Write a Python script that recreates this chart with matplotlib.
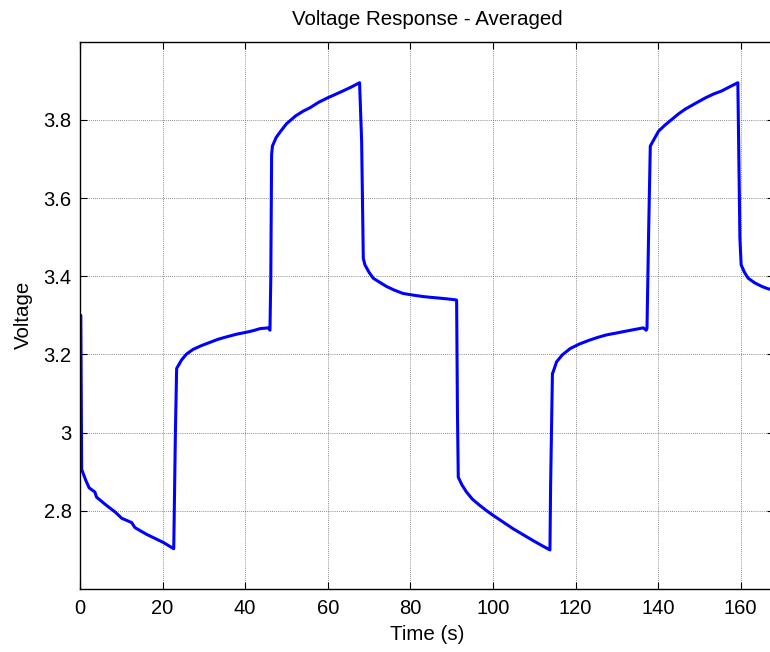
import matplotlib
matplotlib.use('Agg')
import matplotlib.pyplot as plt

# Averaged voltage trace (time in s, voltage in V)
time_s = [0.0, 0.2, 0.4, 1.4, 2.2, 3.6, 4.0, 6.4, 8.5, 10.1, 12.5, 13.3, 16.1, 20.2, 22.7,
          23.1, 23.4, 24.6, 25.8, 27.4, 29.5, 31.5, 33.5, 35.5, 38.0, 40.4, 42.0, 43.6, 45.6, 46.0,
          46.2, 46.4, 46.6, 47.5, 48.6, 50.0, 52.2, 54.0, 55.7, 57.8, 59.9, 61.8, 63.7, 65.7, 67.7,
          68.2, 68.6, 69.0, 70.0, 71.0, 72.5, 74.2, 76.0, 78.2, 80.5, 83.1, 85.0, 87.1, 89.0, 90.7, 91.2,
          91.4, 91.6, 92.5, 93.6, 95.0, 96.8, 98.5, 100.1, 102.5, 104.9, 107.3, 109.7, 111.7, 113.8,
          113.96, 114.4, 114.6, 115.4, 116.8, 118.7, 121.0, 123.5, 125.5, 127.5, 130.0, 132.4, 134.4,
          136.4, 137.1,
          137.3, 137.7, 138.1, 140.1, 141.7, 143.3, 144.9, 146.5, 149.0, 151.4, 153.4, 155.4, 157.4, 159.3,
          159.8, 160.1, 160.9, 161.8, 163.4, 165.1, 166.3, 168.0]
voltage = [3.30, 3.30, 2.906, 2.878, 2.859, 2.848, 2.835, 2.814, 2.797, 2.781, 2.770, 2.757, 2.740, 2.719, 2.703,
           3.00, 3.164, 3.186, 3.201, 3.213, 3.223, 3.231, 3.239, 3.245, 3.252, 3.257, 3.261, 3.266, 3.268, 3.262,
           3.395, 3.711, 3.733, 3.755, 3.771, 3.790, 3.810, 3.822, 3.831, 3.845, 3.856, 3.865, 3.874, 3.884, 3.895,
           3.745, 3.446, 3.429, 3.410, 3.395, 3.385, 3.374, 3.365, 3.356, 3.352, 3.348, 3.346, 3.344, 3.342, 3.340, 3.339,
           3.053, 2.886, 2.866, 2.848, 2.830, 2.814, 2.800, 2.788, 2.771, 2.754, 2.739, 2.724, 2.712, 2.700,
           2.865, 3.151, 3.156, 3.181, 3.199, 3.215, 3.227, 3.237, 3.244, 3.250, 3.255, 3.260, 3.264,
           3.268, 3.262,
           3.267, 3.515, 3.733, 3.771, 3.787, 3.801, 3.815, 3.827, 3.842, 3.856, 3.866, 3.874, 3.885, 3.895,
           3.497, 3.429, 3.410, 3.395, 3.383, 3.374, 3.369, 3.364]

x_ticks = [0, 20, 40, 60, 80, 100, 120, 140, 160]
y_ticks = [2.8, 3.0, 3.2, 3.4, 3.6, 3.8]
y_tick_labels = ['2.8', '3', '3.2', '3.4', '3.6', '3.8']

plt.rcParams['font.family'] = ['Liberation Sans', 'DejaVu Sans']

fig = plt.figure(figsize=(7.7, 6.52), dpi=100)
ax = fig.add_axes([0.1039, 0.0966, 0.901, 0.8395])

ax.plot(time_s, voltage, color='#0000ff', linewidth=2.2,
        solid_joinstyle='round', solid_capstyle='round')

ax.set_xlim(0, 168)
ax.set_ylim(2.6, 4.0)
ax.set_xticks(x_ticks)
ax.set_yticks(y_ticks)
ax.set_yticklabels(y_tick_labels)

ax.grid(True, color='#666666', linestyle=(0, (1, 1.5)), linewidth=0.6)
ax.set_axisbelow(True)
ax.tick_params(direction='in', length=5, width=0.8, top=True, right=True,
               labelsize=14.5, colors='black')
ax.tick_params(axis='x', pad=7)
ax.tick_params(axis='y', pad=6)
for spine in ax.spines.values():
    spine.set_linewidth(1.0)

ax.set_title('Voltage Response - Averaged', fontsize=14.8, pad=12)
ax.set_xlabel('Time (s)', fontsize=14.8, labelpad=5)
ax.set_ylabel('Voltage', fontsize=14.8, labelpad=8)

fig.savefig('out.png', dpi=100)
plt.close(fig)
